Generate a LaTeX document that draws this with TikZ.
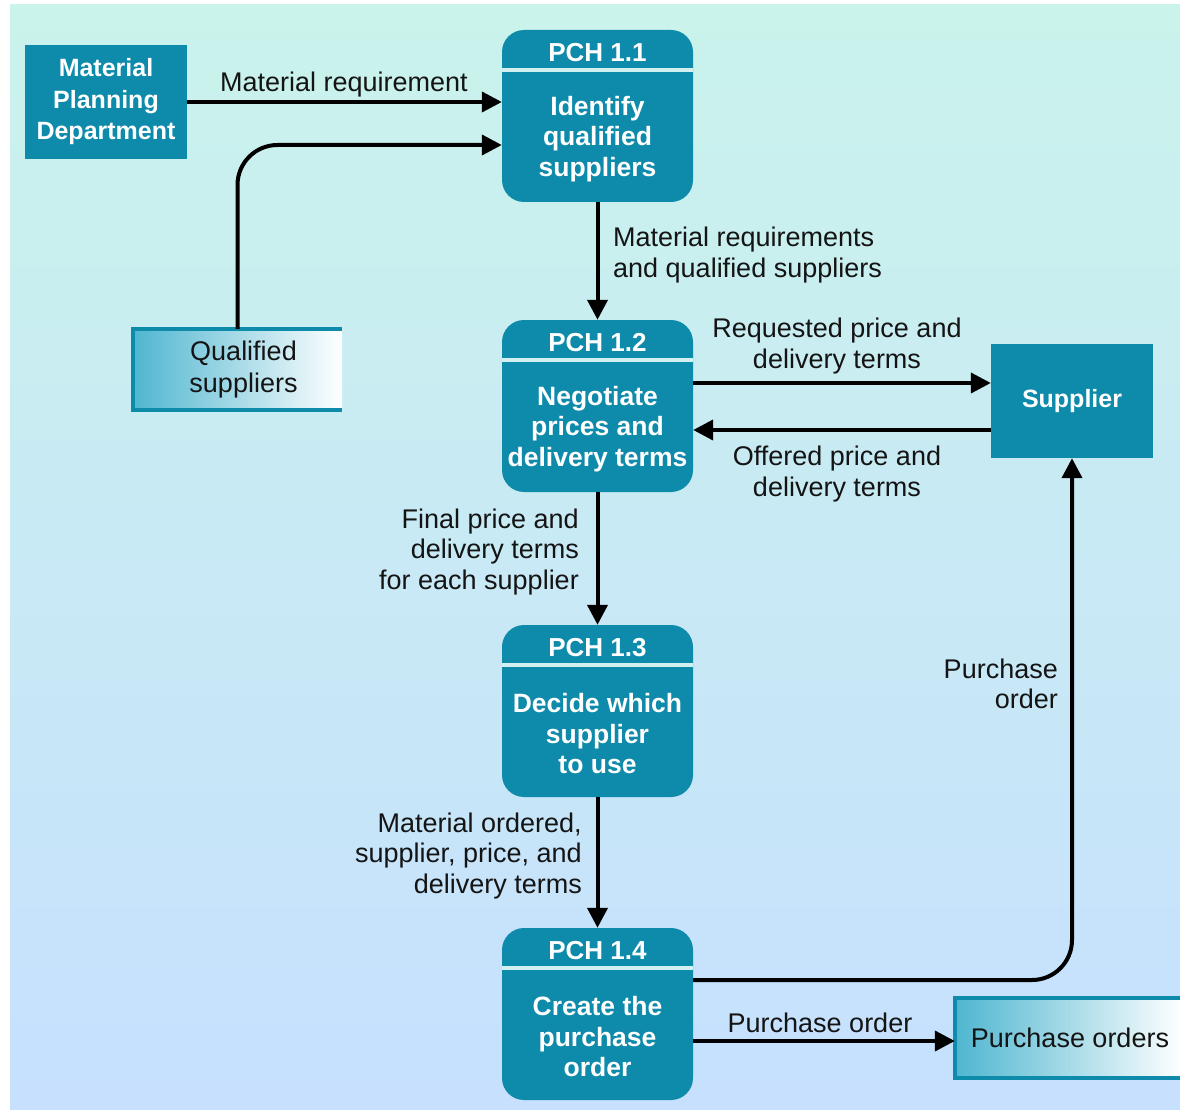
\documentclass[tikz,border=0pt]{standalone}
\usepackage{fontspec}
\setmainfont{Liberation Sans}
\usetikzlibrary{arrows.meta,calc}
\definecolor{bgtop}{HTML}{CAF3EB}
\definecolor{bgbot}{HTML}{C6E0FE}
\definecolor{tealbox}{HTML}{0E8AAA}
\definecolor{sepc}{HTML}{D2F0F0}
\definecolor{stleft}{HTML}{4FB6D0}
\definecolor{txt}{HTML}{141414}
\begin{document}
\begin{tikzpicture}[x=1pt,y=-1pt,
  proc/.style={rectangle, rounded corners=22pt, fill=tealbox, minimum width=191pt, minimum height=172pt, inner sep=0pt},
  ext/.style={rectangle, fill=tealbox, minimum width=162pt, minimum height=114pt, inner sep=0pt, text=white, font=\bfseries\fontsize{25}{31.5}\selectfont, align=center},
  hdr/.style={text=white, font=\bfseries\fontsize{26}{30}\selectfont, inner sep=0pt},
  body/.style={text=white, font=\bfseries\fontsize{26.5}{30.5}\selectfont, align=center, inner sep=0pt},
  lbl/.style={text=txt, font=\fontsize{27}{30.5}\selectfont, inner sep=0pt},
  store/.style={rectangle, inner sep=0pt, left color=stleft, middle color=white, right color=white, text=txt, font=\fontsize{27}{32}\selectfont, align=center},
  stb/.style={draw=tealbox, line width=4.5pt, line join=miter},
  sepline/.style={draw=sepc, line width=3.5pt},
  arr/.style={draw=black, line width=4pt, -{Triangle[length=20pt,width=20pt]}}
]
\useasboundingbox (0,0) rectangle (1180,1110);
\fill[white] (0,0) rectangle (1180,1110);
\shade[top color=bgtop, bottom color=bgbot] (10,5) rectangle (1180,1110);

% external entities
\node[ext] (mpd) at (106,102) {Material\\Planning\\Department};
\node[ext] (sup) at (1072,401) {\raisebox{-2pt}{Supplier}};

% data stores
\node[store, minimum width=209pt, minimum height=81pt] (qs) at (237.5,369.5) {\hspace*{12pt}Qualified\\\hspace*{12pt}suppliers};
\draw[stb] (qs.north east) -- (qs.north west) -- (qs.south west) -- (qs.south east);
\node[store, minimum width=228pt, minimum height=80pt] (po) at (1069,1038) {\hspace*{2pt}Purchase orders};
\draw[stb] (po.north east) -- (po.north west) -- (po.south west) -- (po.south east);

% processes
\node[proc] (p1) at (597.5,116) {};
\node[proc] (p2) at (597.5,406) {};
\node[proc] (p3) at (597.5,711) {};
\node[proc] (p4) at (597.5,1014) {};
\foreach \p in {p1,p2,p3,p4}{
  \draw[sepline] ($(\p.north west)+(0,40)$) -- ($(\p.north east)+(0,40)$);
}
\node[hdr] (p1h) at ($(p1.north)+(0,22.5)$) {PCH 1.1};
\node[body] (p1b) at ($(p1.north)+(0,109)$) {Identify\\qualified\\suppliers};
\node[hdr] (p2h) at ($(p2.north)+(0,22.5)$) {PCH 1.2};
\node[body] (p2b) at ($(p2.north)+(0,109)$) {Negotiate\\prices and\\delivery terms};
\node[hdr] (p3h) at ($(p3.north)+(0,22.5)$) {PCH 1.3};
\node[body] (p3b) at ($(p3.north)+(0,109)$) {Decide which\\supplier\\to use};
\node[hdr] (p4h) at ($(p4.north)+(0,22.5)$) {PCH 1.4};
\node[body] (p4b) at ($(p4.north)+(0,109)$) {Create the\\purchase\\order};

% connectors
\draw[arr] (mpd.east) -- (mpd.east -| p1.west);
\draw[arr, rounded corners=40pt] (qs.north) |- ($(p1.west)+(0,29)$);
\draw[arr] (p1.south) -- (p2.north);
\draw[arr] ($(p2.east)+(0,-23)$) -- ($(sup.west)+(0,-18)$);
\draw[arr] ($(sup.west)+(0,29)$) -- ($(p2.east)+(0,24)$);
\draw[arr] (p2.south) -- (p3.north);
\draw[arr] (p3.south) -- (p4.north);
\draw[arr, rounded corners=40pt] ($(p4.east)+(0,-34)$) -| (sup.south);
\draw[arr] ($(p4.east)+(0,27)$) -- ($(po.west)+(0,3)$);

% labels
\node[lbl] (l1) at (344,85) {Material requirement};
\node[lbl, anchor=west, align=left] (l2) at (613,255) {Material requirements\\and qualified suppliers};
\node[lbl, align=center] (l3) at (837,346) {Requested price and\\delivery terms};
\node[lbl, align=center] (l4) at (837,474) {Offered price and\\delivery terms};
\node[lbl, anchor=east, align=right] (l5) at (579,552) {Final price and\\delivery terms\\for each supplier};
\node[lbl, anchor=east, align=right] (l6) at (582,856) {Material ordered,\\supplier, price, and\\delivery terms};
\node[lbl, anchor=east, align=right] (l7) at (1058,684) {Purchase\\order};
\node[lbl] (l8) at (820,1023) {Purchase order};
\end{tikzpicture}
\end{document}
